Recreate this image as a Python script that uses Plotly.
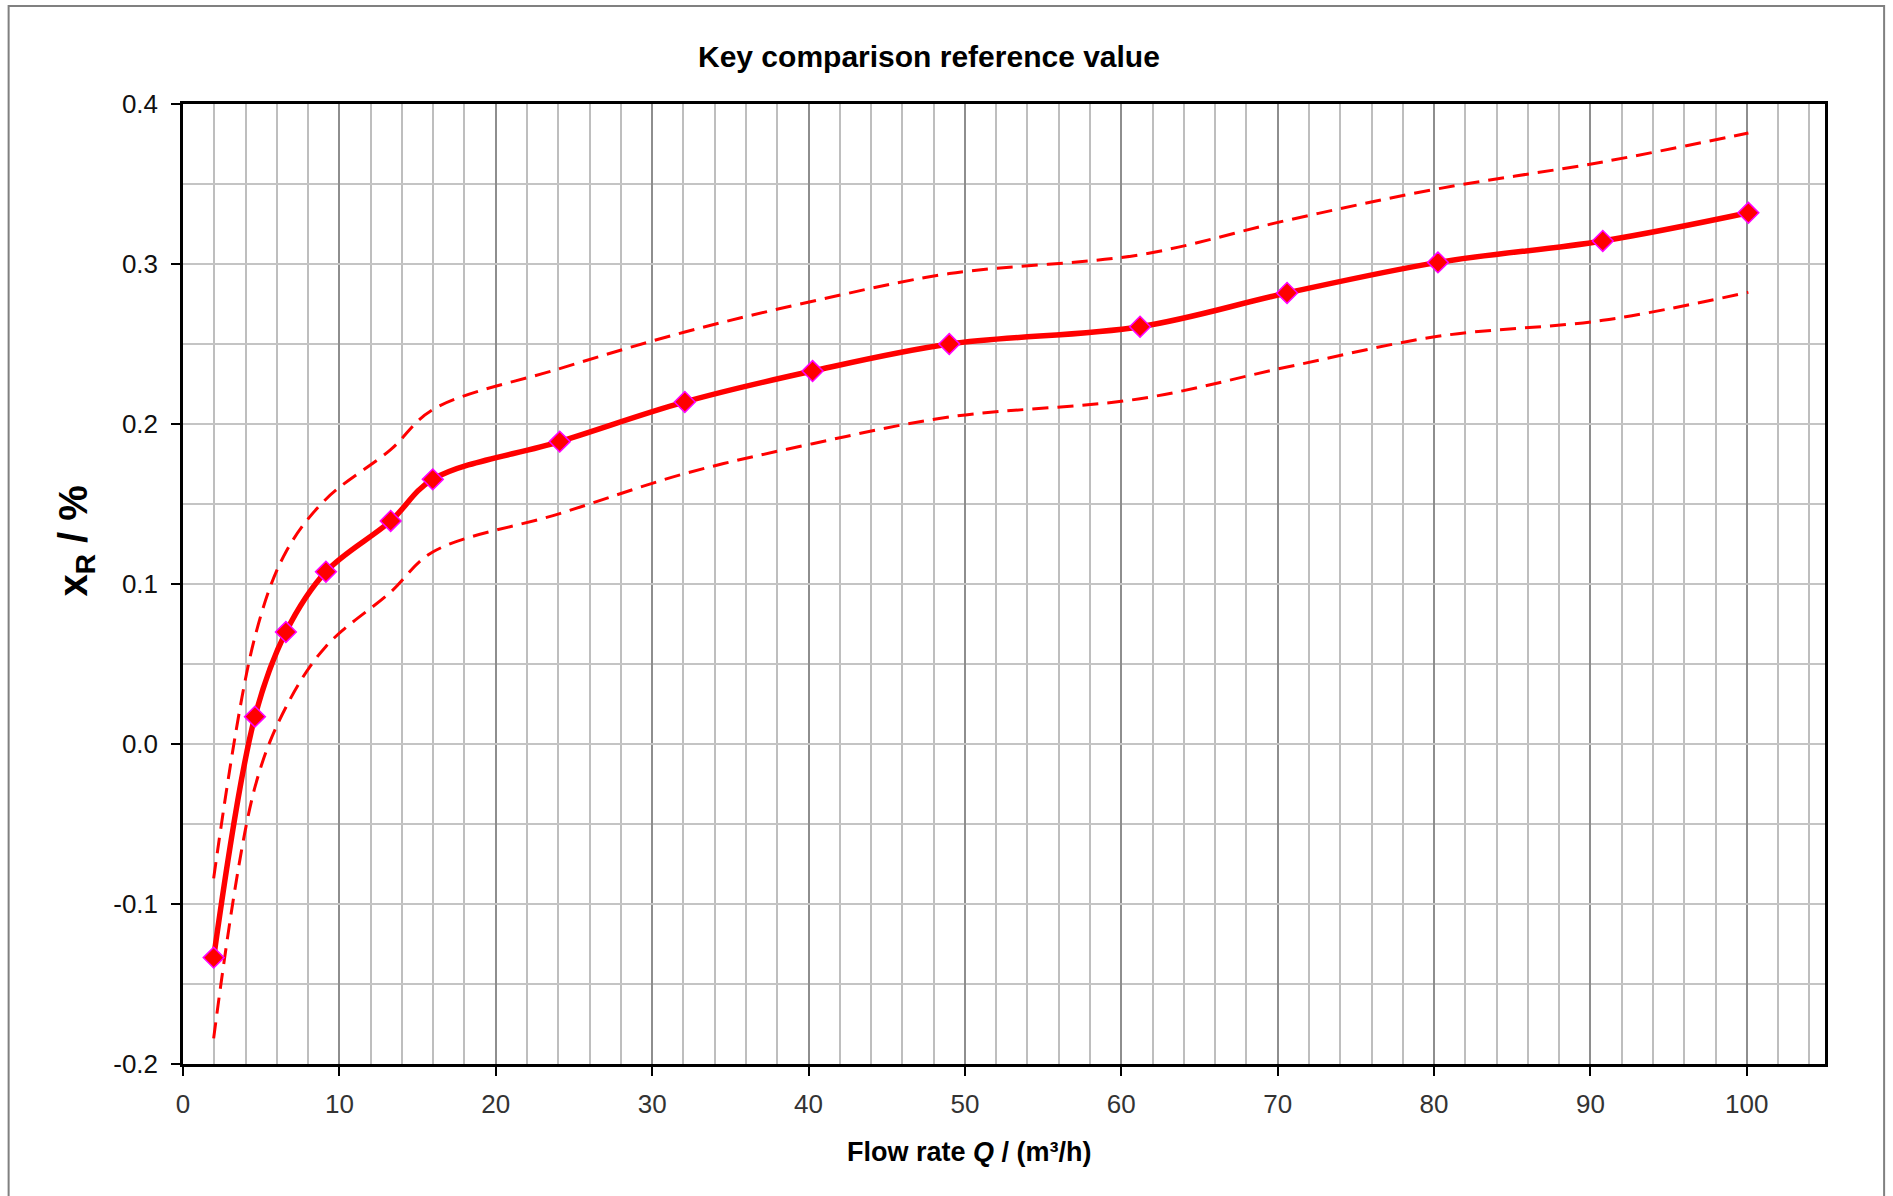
import plotly.graph_objects as go

# ---- data ----
flow_rate = [1.96, 4.6, 6.58, 9.14, 13.28, 15.97, 24.09, 32.09, 40.26, 49.0,
             61.2, 70.6, 80.25, 90.79, 100.1]
x_ref = [-0.1335, 0.0171, 0.0700, 0.1077, 0.1394, 0.1654, 0.1890, 0.2138, 0.2331,
         0.2500, 0.2608, 0.2819, 0.3010, 0.3144, 0.3320]
upper = [-0.084, 0.067, 0.120, 0.153, 0.184, 0.209, 0.2346, 0.2575, 0.2767,
         0.2940, 0.3058, 0.3273, 0.3470, 0.3638, 0.3819]
lower = [-0.184, -0.027, 0.023, 0.061, 0.095, 0.120, 0.144, 0.169, 0.1877,
         0.2044, 0.2158, 0.2356, 0.2548, 0.2648, 0.2823]

x_tick_vals = [0, 10, 20, 30, 40, 50, 60, 70, 80, 90, 100]
y_tick_vals = [-0.2, -0.1, 0.0, 0.1, 0.2, 0.3, 0.4]
y_tick_text = ["-0.2", "-0.1", "0.0", "0.1", "0.2", "0.3", "0.4"]

FONT = "Liberation Sans, Arial, sans-serif"

fig = go.Figure()
for band in (upper, lower):
    fig.add_trace(go.Scatter(
        x=flow_rate, y=band, mode="lines",
        line=dict(color="#ff0000", width=3, dash="16px,9px",
                  shape="spline", smoothing=1.0),
        hoverinfo="skip", showlegend=False))

fig.add_trace(go.Scatter(
    x=flow_rate, y=x_ref, mode="lines+markers",
    line=dict(color="#ff0000", width=5.5, shape="spline", smoothing=1.0),
    marker=dict(symbol="diamond", size=16, color="#ff0000",
                line=dict(color="#ff00ff", width=1.5)),
    showlegend=False))

fig.update_layout(
    width=1893, height=1196,
    margin=dict(l=183, r=68, t=104, b=132),
    paper_bgcolor="white", plot_bgcolor="white",
    font=dict(family=FONT, color="black"),
    showlegend=False,
    xaxis=dict(
        range=[0, 105], tickmode="array", tickvals=x_tick_vals,
        showgrid=True, gridcolor="#8e8e8e", gridwidth=1.5,
        minor=dict(tickmode="linear", tick0=0, dtick=2, showgrid=True,
                   gridcolor="#bebebe", gridwidth=1.5, ticks=""),
        ticks="outside", ticklen=9, tickwidth=1.5, tickcolor="black",
        showline=True, linecolor="black", linewidth=2.5, mirror=True,
        zeroline=False, ticklabelstandoff=6,
        tickfont=dict(family=FONT, size=26, color="#333333")),
    yaxis=dict(
        range=[-0.2, 0.4], tickmode="array", tickvals=y_tick_vals,
        ticktext=y_tick_text,
        showgrid=True, gridcolor="#c4c4c4", gridwidth=1.5,
        minor=dict(tickmode="linear", tick0=-0.2, dtick=0.05, showgrid=True,
                   gridcolor="#c4c4c4", gridwidth=1.5, ticks=""),
        ticks="outside", ticklen=9, tickwidth=1.5, tickcolor="black",
        showline=True, linecolor="black", linewidth=2.5, mirror=True,
        zeroline=False, ticklabelstandoff=8,
        tickfont=dict(family=FONT, size=26, color="#111111")),
    annotations=[
        dict(text="<b>Key comparison reference value</b>", xref="paper", yref="paper",
             x=0.4542, y=1.049, xanchor="center", yanchor="middle", showarrow=False,
             font=dict(family=FONT, size=30, color="black")),
        dict(text="<b>Flow rate <i>Q</i> / (m³/h)</b>", xref="paper", yref="paper",
             x=0.479, y=-0.0917, xanchor="center", yanchor="middle", showarrow=False,
             font=dict(family=FONT, size=27, color="black")),
        dict(text="<b>x<sub>R</sub> / %</b>", xref="paper", yref="paper",
             x=-0.0654, y=0.5448, xanchor="center", yanchor="middle", showarrow=False,
             textangle=-90, font=dict(family=FONT, size=40, color="black")),
    ],
    shapes=[
        dict(type="rect", xref="paper", yref="paper",
             x0=-0.1062, x1=1.0360, y0=-0.15, y1=1.1021,
             line=dict(color="#808080", width=2), fillcolor="rgba(0,0,0,0)",
             layer="below"),
    ],
)

fig.write_html("out.html",
               config={"displayModeBar": False},
               post_script="document.body.style.margin='0';"
                           "document.body.style.overflow='hidden';")
